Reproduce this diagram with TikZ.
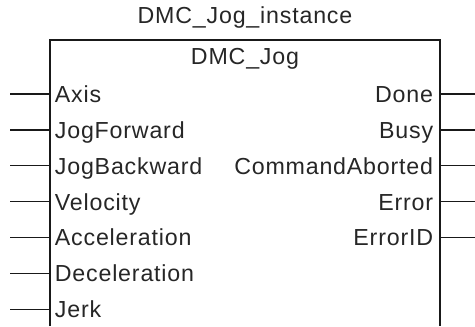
\documentclass[tikz,border=0pt]{standalone}
\usepackage{fontspec}
\setmainfont[LetterSpace=3.5]{Liberation Sans}
\usetikzlibrary{positioning}
\newcommand\fbfont{\fontsize{11.6}{13}\selectfont}
\tikzset{
  fbline/.style={draw=black!90, line width=0.65pt},
  pinlabel/.style={inner sep=0pt, font=\fbfont, text=black!85},
  title/.style={inner sep=0pt, font=\fbfont, text=black!85, anchor=base}
}

\begin{document}
\begin{tikzpicture}[x=0.5pt, y=-0.5pt]
\useasboundingbox (0,0) rectangle (475,326);
% function block outline, open at the bottom
\coordinate (tl) at (50,40);
\coordinate (tr) at (440,40);
\coordinate (bl) at (50,326);
\coordinate (br) at (440,326);
\draw[fbline] (bl) -- (tl) -- (tr) -- (br);
\node[title] (inst) at (245,24) {DMC\_Jog\_instance};
\node[title] (fbname) at (245,65) {DMC\_Jog};
% inputs
\foreach \name [count=\i] in {Axis,JogForward,JogBackward,Velocity,Acceleration,Deceleration,Jerk} {
  \pgfmathsetmacro\py{94+35.9*(\i-1)}
  \coordinate (in\i) at (50,\py);
  \coordinate (inend\i) at (10,\py);
  \node[pinlabel, anchor=base west] (inlbl\i) at (54.5,\py+8.3) {\name};
  \draw[fbline] (inend\i) -- (in\i);
}
% outputs
\foreach \name [count=\i] in {Done,Busy,CommandAborted,Error,ErrorID} {
  \pgfmathsetmacro\py{94+35.9*(\i-1)}
  \coordinate (out\i) at (440,\py);
  \coordinate (outend\i) at (475,\py);
  \node[pinlabel, anchor=base east] (outlbl\i) at (433.5,\py+8.3) {\name};
  \draw[fbline] (out\i) -- (outend\i);
}
\end{tikzpicture}
\end{document}
